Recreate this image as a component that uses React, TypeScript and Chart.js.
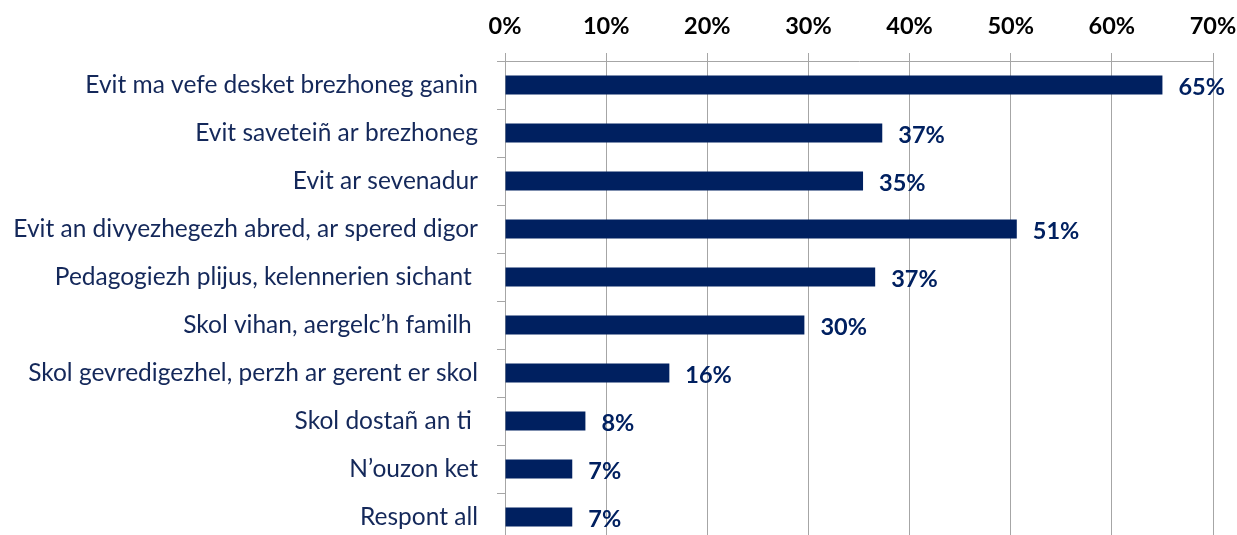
import { useEffect, useRef } from "react";
import { Chart, registerables } from "chart.js";

Chart.register(...registerables);

const categories: string[] = [
  "Evit ma vefe desket brezhoneg ganin",
  "Evit saveteiñ ar brezhoneg",
  "Evit ar sevenadur",
  "Evit an divyezhegezh abred, ar spered digor",
  "Pedagogiezh plijus, kelennerien sichant ",
  "Skol vihan, aergelc’h familh ",
  "Skol gevredigezhel, perzh ar gerent er skol",
  "Skol dostañ an ti ",
  "N’ouzon ket",
  "Respont all",
];

const values: number[] = [65.0, 37.3, 35.4, 50.6, 36.6, 29.6, 16.25, 7.95, 6.65, 6.65];

const valueLabels: string[] = ["65%", "37%", "35%", "51%", "37%", "30%", "16%", "8%", "7%", "7%"];

const xMin = 0;
const xMax = 70;
const xStep = 10;

const NAVY = "#002060";
const GRID = "#A6A6A6";
const FONT = "Lato, 'Open Sans', sans-serif";

const valueLabelPlugin = {
  id: "valueLabels",
  afterDatasetsDraw(chart: any) {
    const ctx = chart.ctx;
    const meta = chart.getDatasetMeta(0);
    ctx.save();
    ctx.fillStyle = NAVY;
    ctx.font = `bold 23.5px ${FONT}`;
    ctx.textAlign = "left";
    ctx.textBaseline = "middle";
    meta.data.forEach((el: any, i: number) => {
      ctx.fillText(valueLabels[i], el.x + 16, el.y + 2);
    });
    ctx.restore();
  },
};

export default function App() {
  const canvasRef = useRef<HTMLCanvasElement | null>(null);

  useEffect(() => {
    if (!canvasRef.current) return;
    const chart = new Chart(canvasRef.current, {
      type: "bar",
      data: {
        labels: categories,
        datasets: [
          {
            data: values,
            backgroundColor: NAVY,
            borderWidth: 0,
            barPercentage: 0.4,
            categoryPercentage: 1,
          },
        ],
      },
      options: {
        indexAxis: "y",
        animation: false,
        responsive: false,
        layout: { padding: { left: 0, right: 24, top: 0, bottom: 0 } },
        plugins: {
          legend: { display: false },
          tooltip: { enabled: false },
        },
        scales: {
          x: {
            position: "top",
            min: xMin,
            max: xMax,
            ticks: {
              stepSize: xStep,
              callback: (v: any) => `${v}%`,
              color: "#000000",
              font: { family: FONT, size: 23.5, weight: "bold" },
              padding: 12,
            },
            grid: {
              color: GRID,
              lineWidth: 1,
              drawTicks: true,
              tickLength: 8,
            },
            border: { color: GRID, width: 1 },
            afterFit: (s: any) => {
              s.height = 61;
              s.paddingLeft = 0;
              s.paddingRight = 0;
            },
          },
          y: {
            type: "category",
            ticks: {
              color: "#14285A",
              font: { family: FONT, size: 24.5 },
              padding: 19,
              autoSkip: false,
            },
            grid: {
              offset: true,
              drawOnChartArea: false,
              drawTicks: true,
              tickLength: 8,
              color: GRID,
            },
            border: { color: GRID, width: 1 },
            afterFit: (s: any) => {
              s.width = 505;
              s.paddingTop = 0;
              s.paddingBottom = 0;
            },
          },
        },
      },
      plugins: [valueLabelPlugin],
    });
    return () => chart.destroy();
  }, []);

  return (
    <div style={{ position: "fixed", left: 0, top: 0, width: 1237, height: 541, background: "#fff" }}>
      <canvas ref={canvasRef} width={1237} height={541} style={{ display: "block" }} />
    </div>
  );
}
